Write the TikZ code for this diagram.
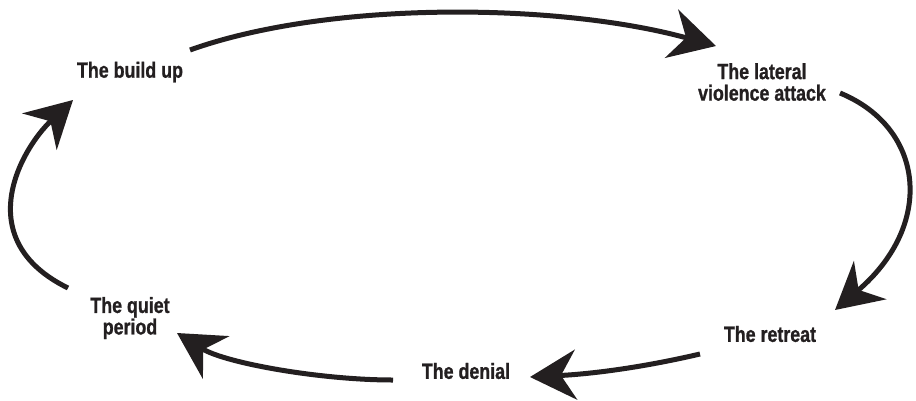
\documentclass[tikz,border=0pt]{standalone}
\usepackage{fontspec}
\setmainfont{Liberation Sans}[FakeStretch=0.81,FakeBold=1]
\usetikzlibrary{arrows.meta}
\definecolor{ink}{RGB}{35,31,32}
\begin{document}
\begin{tikzpicture}[x=1pt,y=-1pt,
  lbl/.style={font=\bfseries\fontsize{22}{21.5}\selectfont, align=center, text=ink, inner sep=0pt},
  cyc/.style={line width=5pt, draw=ink, -{Stealth[length=46pt,width=50pt,inset=15pt]}}]
\useasboundingbox (0,0) rectangle (916,400);
\node[lbl] (build) at (130,72) {The build up};
\node[lbl] (lateral) at (762,82) {The lateral\\violence attack};
\node[lbl] (retreat) at (770,334) {The retreat};
\node[lbl] (denial) at (466,371) {The denial};
\node[lbl] (quiet) at (130,318) {The quiet\\period};
\coordinate (s1) at (190,50);  \coordinate (e1) at (716,46);
\coordinate (s2) at (840,93);  \coordinate (e2) at (835,310);
\coordinate (s3) at (700,354); \coordinate (e3) at (530,377);
\coordinate (s4) at (393,380); \coordinate (e4) at (177,333);
\coordinate (s5) at (68,288);  \coordinate (e5) at (73,100);
\draw[cyc] (s1) .. controls (330,0) and (560,3) .. (e1);
\draw[cyc] (s2) .. controls (925,128) and (935,225) .. (e2);
\draw[cyc] (s3) .. controls (640,368) and (590,374) .. (e3);
\draw[cyc] (s4) .. controls (320,380) and (225,363) .. (e4);
\draw[cyc] (s5) .. controls (-30,240) and (20,150) .. (e5);
\end{tikzpicture}
\end{document}
